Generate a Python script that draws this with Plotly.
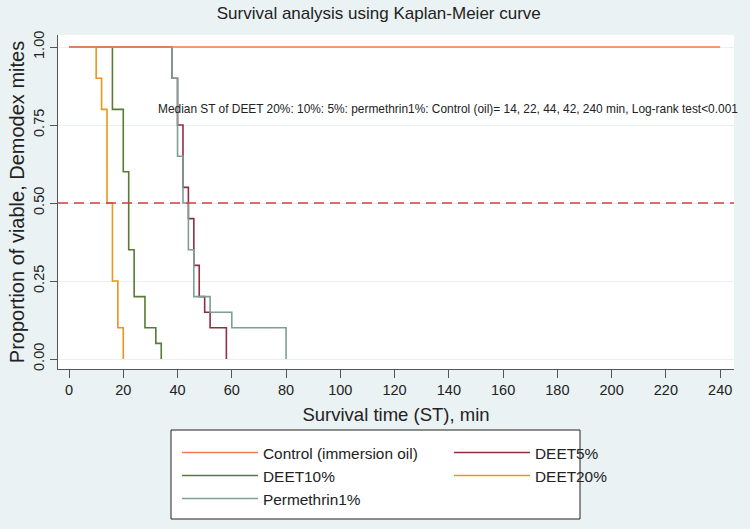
import plotly.graph_objects as go

# ---- data ----
control_t = [0, 240]
control_s = [1.0, 1.0]

deet5_t = [0, 38, 40, 42, 44, 46, 48, 50, 52, 58]
deet5_s = [1.0, 0.9, 0.75, 0.55, 0.45, 0.30, 0.20, 0.15, 0.10, 0.0]

deet10_t = [0, 16, 20, 22, 24, 28, 32, 34]
deet10_s = [1.0, 0.8, 0.6, 0.35, 0.20, 0.10, 0.05, 0.0]

deet20_t = [0, 10, 12, 14, 16, 18, 20]
deet20_s = [1.0, 0.9, 0.8, 0.5, 0.25, 0.10, 0.0]

perm_t = [0, 38, 40, 42, 44, 46, 52, 60, 80]
perm_s = [1.0, 0.9, 0.65, 0.5, 0.35, 0.20, 0.15, 0.10, 0.0]

x_ticks = list(range(0, 241, 20))
y_ticks = [0, 0.25, 0.5, 0.75, 1.0]
y_ticklabels = ["0.00", "0.25", "0.50", "0.75", "1.00"]

note = ("Median ST of DEET 20%: 10%: 5%: permethrin1%: Control (oil)= "
        "14, 22, 44, 42, 240 min, Log-rank test<0.001")

FONT = "Arial, Liberation Sans, sans-serif"
BG = "#EAF2F3"

series = [
    ("DEET5%", deet5_t, deet5_s, "#8E2F3F", 2),
    ("DEET10%", deet10_t, deet10_s, "#587A34", 3),
    ("DEET20%", deet20_t, deet20_s, "#E8961C", 4),
    ("Permethrin1%", perm_t, perm_s, "#7E9E98", 5),
    ("Control (immersion oil)", control_t, control_s, "#F47B4F", 1),
]

fig = go.Figure()
for name, t, s, col, rank in series:
    fig.add_trace(go.Scatter(
        x=t, y=s, mode="lines", name=name, line_shape="hv",
        line=dict(color=col, width=1.6), legendrank=rank,
    ))

# reference line at 50% survival
fig.add_shape(type="line", xref="paper", yref="y", x0=0, x1=1, y0=0.5, y1=0.5,
              line=dict(color="#C8443E", width=1.3, dash="10px,6px"), layer="above")

# legend frame (plot area: x 58..734 px, y 35..369 px)
PW, PH = 676.0, 334.0
def px_x(p):
    return (p - 58) / PW
def px_y(p):
    return (369 - p) / PH

fig.add_shape(type="rect", xref="paper", yref="paper",
              x0=px_x(171), x1=px_x(580), y0=px_y(430), y1=px_y(519),
              line=dict(color="#222222", width=1), fillcolor="#FFFFFF", layer="above")

fig.add_annotation(x=32.0, y=0.80, xref="x", yref="y", text=note, showarrow=False,
                   xanchor="left", yanchor="middle",
                   font=dict(family=FONT, size=11.9, color="#222222"))

fig.update_layout(
    width=750, height=529,
    margin=dict(l=58, r=16, t=35, b=160, autoexpand=False),
    paper_bgcolor=BG, plot_bgcolor="#FFFFFF",
    font=dict(family=FONT, color="#222222"),
    title=dict(text="Survival analysis using Kaplan-Meier curve", x=0.505, xanchor="center",
               y=0.975, yanchor="middle", font=dict(family=FONT, size=17, color="#222222")),
    showlegend=True,
    legend=dict(orientation="h", x=px_x(177), xanchor="left", y=px_y(436), yanchor="top",
                bgcolor="rgba(0,0,0,0)", borderwidth=0,
                entrywidth=181, entrywidthmode="pixels", itemwidth=76,
                font=dict(family=FONT, size=15.4, color="#222222"),
                traceorder="normal"),
)

fig.update_xaxes(range=[-4.06, 245.1], tickmode="array", tickvals=x_ticks,
                 ticks="outside", ticklen=8, tickcolor="#555555", automargin=False,
                 showgrid=False, zeroline=False, showline=True, linecolor="#555555",
                 linewidth=1, tickfont=dict(size=14.5, color="#222222"),
                 title=dict(text="Survival time (ST), min", standoff=10,
                            font=dict(size=18.5, color="#222222")))
fig.update_yaxes(range=[-0.032, 1.0385], tickmode="array", tickvals=y_ticks,
                 ticktext=y_ticklabels, tickangle=-90, automargin=False,
                 ticks="outside", ticklen=7, tickcolor="#555555",
                 showgrid=True, gridcolor="#E8F0F2", gridwidth=1, zeroline=False,
                 showline=True, linecolor="#555555", linewidth=1,
                 tickfont=dict(size=14.5, color="#222222"),
                 title=dict(text="Proportion of viable, Demodex mites", standoff=1,
                            font=dict(size=20, color="#222222")))

fig.write_html("out.html", config={"displayModeBar": False},
               post_script="document.body.style.margin='0';"
                           "document.body.style.background='" + BG + "';")
